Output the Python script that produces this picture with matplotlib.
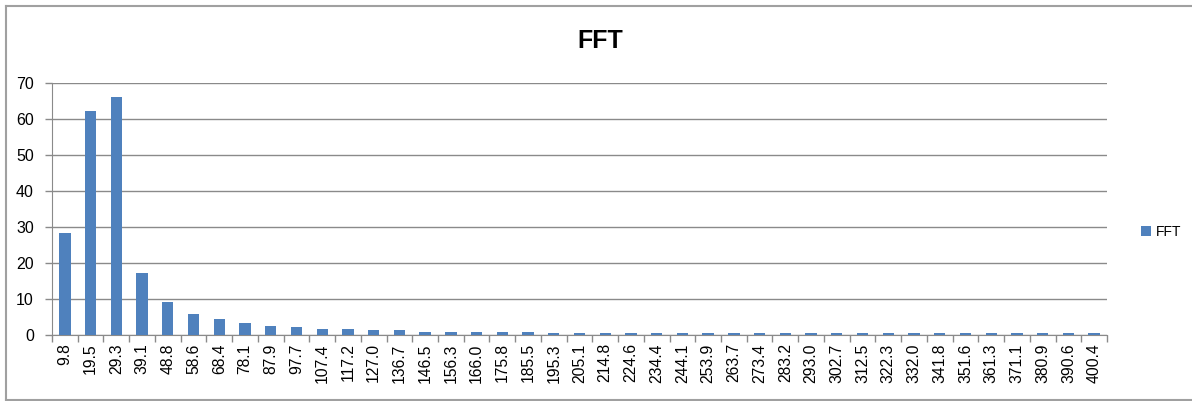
import matplotlib
matplotlib.use("Agg")
import matplotlib.pyplot as plt
from matplotlib.lines import Line2D

plt.rcParams['font.family'] = ['Liberation Sans', 'DejaVu Sans']

categories = ["9.8", "19.5", "29.3", "39.1", "48.8", "58.6", "68.4", "78.1", "87.9", "97.7",
              "107.4", "117.2", "127.0", "136.7", "146.5", "156.3", "166.0", "175.8", "185.5", "195.3",
              "205.1", "214.8", "224.6", "234.4", "244.1", "253.9", "263.7", "273.4", "283.2", "293.0",
              "302.7", "312.5", "322.3", "332.0", "341.8", "351.6", "361.3", "371.1", "380.9", "390.6",
              "400.4"]
fft_values = [28.3, 62.1, 66.0, 17.3, 9.3, 5.9, 4.4, 3.3, 2.5, 2.1,
              1.7, 1.7, 1.3, 1.3, 0.9, 0.9, 0.9, 0.9, 0.9, 0.5,
              0.5, 0.5, 0.5, 0.5, 0.5, 0.5, 0.5, 0.5, 0.5, 0.5,
              0.5, 0.5, 0.5, 0.5, 0.5, 0.5, 0.5, 0.5, 0.5, 0.5,
              0.5]
y_ticks = [0, 10, 20, 30, 40, 50, 60, 70]

fig = plt.figure(figsize=(11.92, 4.01), dpi=100)
fig.patch.set_facecolor('white')

# chart outer border (right edge is cropped off in the reference)
W, H = 1192, 401
bx0, by_top, by_bot = 5.5, 5.5, 399.5
for xs, ys in [([bx0, W + 5], [by_top, by_top]),
               ([bx0, W + 5], [by_bot, by_bot]),
               ([bx0, bx0], [by_top, by_bot])]:
    fig.add_artist(Line2D([v / W for v in xs], [1 - v / H for v in ys],
                          transform=fig.transFigure, color='#a0a0a0', linewidth=1.5))

ax = fig.add_axes([52/1192, 1 - 335/401, (1107 - 52)/1192, (335 - 83)/401])
x = list(range(len(categories)))
ax.bar(x, fft_values, width=0.44, color='#4F81BD', label='FFT', zorder=3)

ax.set_xlim(-0.5, len(categories) - 0.5)
ax.set_ylim(0, 70)
ax.set_yticks(y_ticks)
ax.set_yticklabels([str(v) for v in y_ticks], fontsize=11.5)
ax.yaxis.grid(True, color='#8a8a8a', linewidth=1.0, zorder=0)
ax.set_axisbelow(True)

ax.set_xticks(x)
ax.set_xticklabels(categories, rotation=90, fontsize=11.3)
ax.tick_params(axis='x', length=0, pad=6)
# tick marks between categories
ax.set_xticks([i - 0.5 for i in range(len(categories) + 1)], minor=True)
ax.tick_params(axis='x', which='minor', length=5, color='#8a8a8a', width=1)
ax.tick_params(axis='y', length=5, color='#8a8a8a', width=1, pad=8)

for s in ['top', 'right']:
    ax.spines[s].set_visible(False)
ax.spines['left'].set_color('#8a8a8a')
ax.spines['bottom'].set_color('#8a8a8a')

fig.text(600/1192, 1 - 41/401, 'FFT', ha='center', va='center', fontsize=18, fontweight='bold')

leg = ax.legend(loc='center left', bbox_to_anchor=(1134/1192, 1 - 232/401),
                bbox_transform=fig.transFigure, frameon=False, fontsize=10,
                handlelength=0.75, handleheight=0.75, handletextpad=0.3, borderpad=0)

fig.savefig('out.png', dpi=100)
